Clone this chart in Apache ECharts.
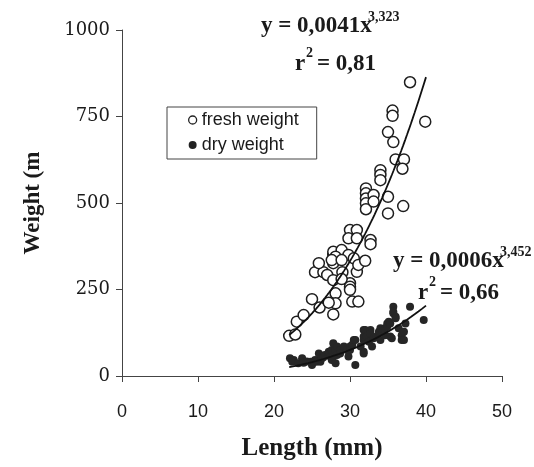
<!DOCTYPE html>
<html>
<head>
<meta charset="utf-8">
<script src="https://cdn.jsdelivr.net/npm/echarts@6/dist/echarts.min.js"></script>
<style>
  html, body { margin: 0; padding: 0; background: #fff; }
  #chart { width: 534px; height: 467px; }
</style>
</head>
<body>
<div id="chart"></div>
<script>
// Fresh weight measurements: length (mm) and weight
const freshLength = [22.0, 22.8, 23.0, 23.9, 25.0, 26.0, 25.4, 26.5, 25.9, 27.0, 27.8, 27.8, 28.1, 28.1, 27.8, 27.2, 27.8, 27.8, 28.9, 28.1, 29.8, 30.5, 30.0, 30.0, 30.0, 30.9, 30.3, 31.1, 31.1, 32.0, 30.0, 30.9, 29.8, 30.9, 32.7, 32.7, 32.1, 32.1, 32.1, 32.1, 32.1, 33.1, 33.1, 34.0, 34.0, 34.0, 35.0, 35.0, 37.0, 36.0, 37.1, 36.9, 35.0, 35.7, 35.6, 35.6, 39.9, 37.9, 29.0, 28.9, 27.6, 28.9];
const freshWeight = [116, 120, 157, 176, 222, 198, 300, 300, 326, 292, 326, 350, 239, 210, 178, 212, 277, 359, 364, 345, 350, 340, 268, 258, 249, 301, 215, 215, 321, 333, 422, 422, 398, 398, 393, 381, 542, 528, 513, 499, 482, 523, 504, 595, 581, 566, 518, 470, 491, 626, 626, 599, 705, 676, 767, 752, 735, 849, 300, 280, 335, 335];

// Dry weight measurements
const dryLength = [22.1, 22.6, 22.4, 23.2, 23.7, 23.9, 24.3, 24.8, 25.0, 25.4, 25.6, 25.9, 26.1, 26.3, 26.5, 26.7, 27.2, 27.2, 27.4, 27.6, 27.6, 27.8, 27.8, 28.1, 28.1, 28.3, 28.3, 28.7, 28.7, 29.2, 29.6, 29.8, 30.0, 30.0, 30.3, 30.5, 30.7, 30.7, 31.4, 31.8, 31.8, 31.8, 31.8, 31.8, 32.0, 32.2, 32.5, 32.7, 32.7, 32.9, 33.1, 33.5, 33.8, 34.0, 34.0, 34.6, 34.6, 34.9, 34.9, 35.1, 35.3, 35.3, 35.5, 35.7, 35.7, 35.7, 36.0, 36.0, 36.4, 36.8, 36.8, 37.1, 37.1, 37.3, 37.9, 39.7];
const dryWeight = [51, 46, 41, 37, 51, 38, 42, 41, 32, 46, 41, 65, 41, 51, 54, 61, 65, 70, 56, 75, 46, 95, 56, 75, 37, 85, 61, 75, 65, 85, 75, 56, 85, 75, 90, 104, 32, 104, 85, 104, 70, 65, 133, 114, 133, 114, 99, 133, 123, 85, 109, 114, 128, 104, 138, 138, 118, 152, 143, 157, 152, 114, 109, 200, 186, 181, 171, 167, 138, 118, 104, 128, 104, 152, 200, 162];

// Power-law fits y = a * x^b, as stated in the equations
const freshFit = { a: 0.0041, b: 3.323, r2: '0,81' };
const dryFit = { a: 0.0006, b: 3.452, r2: '0,66' };
const fitRange = [22, 40];

const xTicks = [0, 10, 20, 30, 40, 50];
const yTicks = [0, 250, 500, 750, 1000];

function pairs(xs, ys) { return xs.map((x, i) => [x, ys[i]]); }
function curve(fit) {
  const pts = [];
  for (let x = fitRange[0]; x <= fitRange[1] + 1e-9; x += 0.25) {
    pts.push([x, fit.a * Math.pow(x, fit.b)]);
  }
  return pts;
}

const serif = '"Liberation Serif", "Times New Roman", serif';
const sans = '"Liberation Sans", Arial, sans-serif';
const ink = '#1a1a1a';

const chart = echarts.init(document.getElementById('chart'), null, { renderer: 'canvas' });

chart.setOption({
  animation: false,
  backgroundColor: '#fff',
  grid: { left: 122, right: 32, top: 30, bottom: 91 },
  xAxis: {
    type: 'value',
    min: xTicks[0], max: xTicks[xTicks.length - 1], interval: 10,
    name: 'Length (mm)',
    nameLocation: 'middle',
    nameGap: 60,
    nameTextStyle: { fontFamily: serif, fontWeight: 'bold', fontSize: 25, color: ink },
    axisLine: { lineStyle: { color: '#444', width: 1 } },
    axisTick: { show: true, length: 6, lineStyle: { color: '#444' } },
    axisLabel: { fontFamily: sans, fontSize: 18, color: ink, margin: 27 },
    splitLine: { show: false }
  },
  yAxis: {
    type: 'value',
    min: yTicks[0], max: yTicks[yTicks.length - 1], interval: 250,
    name: 'Weight (m',
    nameLocation: 'middle',
    nameRotate: 90,
    nameGap: 77,
    nameTextStyle: { fontFamily: serif, fontWeight: 'bold', fontSize: 23, color: ink },
    axisLine: { show: true, lineStyle: { color: '#444', width: 1 } },
    axisTick: { show: true, length: 6, lineStyle: { color: '#444' } },
    axisLabel: { fontFamily: '"DejaVu Serif", serif', fontSize: 18, color: ink, margin: 12, formatter: v => String(v) },
    splitLine: { show: false }
  },
  legend: {
    orient: 'vertical',
    left: 167, top: 107,
    padding: [4, 18, 5, 21],
    itemGap: 7,
    itemWidth: 8, itemHeight: 8,
    borderColor: '#444', borderWidth: 1,
    textStyle: { fontFamily: sans, fontSize: 18, color: ink },
    data: [
      { name: 'fresh weight', icon: 'circle', itemStyle: { color: '#fff', borderColor: '#222', borderWidth: 1.3 } },
      { name: 'dry weight', icon: 'circle', itemStyle: { color: '#222' } }
    ]
  },
  series: [
    {
      name: 'fresh weight', type: 'scatter',
      data: pairs(freshLength, freshWeight),
      symbol: 'circle', symbolSize: 11,
      itemStyle: { color: '#fff', borderColor: '#1e1e1e', borderWidth: 1.5, opacity: 1 }
    },
    {
      name: 'dry weight', type: 'scatter',
      data: pairs(dryLength, dryWeight),
      symbol: 'circle', symbolSize: 8,
      itemStyle: { color: '#262626', opacity: 1 }
    },
    {
      name: 'fresh fit', type: 'line', data: curve(freshFit),
      showSymbol: false, symbol: 'none',
      lineStyle: { color: '#111', width: 1.8 }, z: 5
    },
    {
      name: 'dry fit', type: 'line', data: curve(dryFit),
      showSymbol: false, symbol: 'none',
      lineStyle: { color: '#111', width: 1.8 }, z: 5
    }
  ],
  graphic: [
    { type: 'text', left: 261, top: 15, style: { text: 'y = 0,0041x', font: 'bold 23px ' + serif, fill: ink } },
    { type: 'text', left: 368, top: 10, style: { text: '3,' + freshFit.b.toString().split('.')[1], font: 'bold 14px ' + serif, fill: ink } },
    { type: 'text', left: 295, top: 53, style: { text: 'r', font: 'bold 23px ' + serif, fill: ink } },
    { type: 'text', left: 306, top: 46, style: { text: '2', font: 'bold 14px ' + serif, fill: ink } },
    { type: 'text', left: 317, top: 53, style: { text: '= ' + freshFit.r2, font: 'bold 23px ' + serif, fill: ink } },

    { type: 'text', left: 393, top: 250, style: { text: 'y = 0,0006x', font: 'bold 23px ' + serif, fill: ink } },
    { type: 'text', left: 500, top: 245, style: { text: '3,' + dryFit.b.toString().split('.')[1], font: 'bold 14px ' + serif, fill: ink } },
    { type: 'text', left: 418, top: 282, style: { text: 'r', font: 'bold 23px ' + serif, fill: ink } },
    { type: 'text', left: 429, top: 275, style: { text: '2', font: 'bold 14px ' + serif, fill: ink } },
    { type: 'text', left: 440, top: 282, style: { text: '= ' + dryFit.r2, font: 'bold 23px ' + serif, fill: ink } }
  ]
});
</script>
</body>
</html>
